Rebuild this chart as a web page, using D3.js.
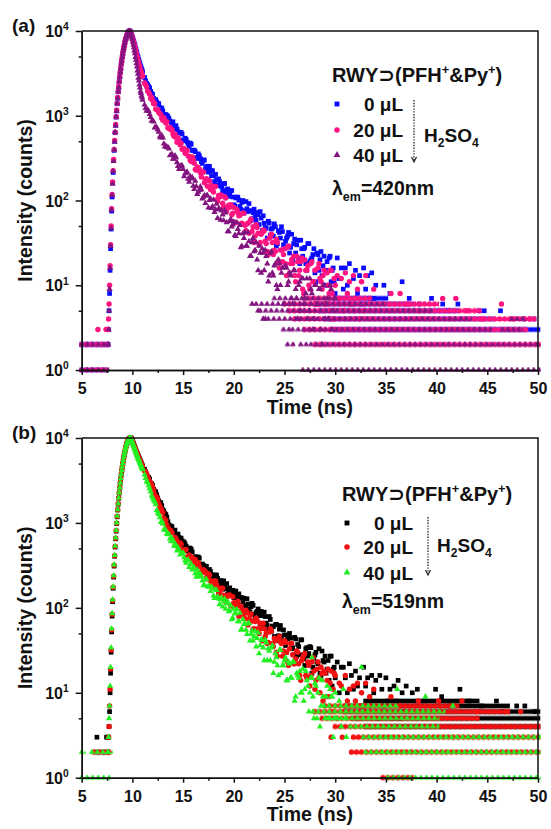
<!DOCTYPE html>
<html>
<head>
<meta charset="utf-8">
<script src="https://cdn.jsdelivr.net/npm/d3@7"></script>
<style>
    body { margin: 0; background: #ffffff; }
    svg text { font-family: "Liberation Sans", Arial, "DejaVu Sans", sans-serif; font-weight: bold; fill: #111111; }
</style>
</head>
<body>
<svg id="chart" width="551" height="829"></svg>
<script>
"use strict";

// channel grids (ns): fine grid around the pulse, two interleaved coarser grids along the decay
const fineStart = 7.6, fineStep = 0.05;
const coarseStart = 11.2, coarseStep = 0.2;
const midStart = 11.3, midStep = 0.2;

// axis ticks
const xMajorTicks = [5, 10, 15, 20, 25, 30, 35, 40, 45, 50];
const xMinorTicks = [7.5, 12.5, 17.5, 22.5, 27.5, 32.5, 37.5, 42.5, 47.5];
const yMajorTicks = [1, 10, 100, 1000, 10000];
const yMinorTicks = [5, 50, 500, 5000];

// ---------- panel (a), lambda_em = 420 nm ----------
const a0Fine = [2,3,5,8,15,27,46,75,
    110,162,214,298,390,498,630,771,962,1140,
    1385,1610,1915,2170,2530,2860,3260,3610,4100,4430,
    4930,5340,5920,6280,6800,7200,7800,8090,8560,8880,
    9260,9480,9760,9870,10000,9990,9850,9480,9090,8850,
    8470,8180,7720,7450,7040,6800,6340,6070,5710,5540,
    5150,4940,4650,4510,4230,4110,3860,3750,3560,3460,
    3290];
const a0Coarse = [2834,2415,2219,1941,1776,1525,1460,1392,1198,1143,
    997,1011,930,839,848,708,697,631,637,517,
    543,490,433,462,392,377,313,338,287,301,
    237,254,253,196,196,204,151,167,145,157,
    120,137,118,131,89,107,109,85,95,71,
    97,74,76,61,79,58,68,74,44,54,
    47,57,39,47,53,29,44,36,43,27,
    36,42,28,20,35,30,21,34,22,28,
    15,31,20,23,14,24,15,25,17,10,
    19,21,11,16,8,21,12,16,9,16,
    10,18,6,12,15,8,13,6,16,9,
    13,7,14,7,10];
const a0Mid = [2585,2328,2133,1831,1595,1550,1394,1253,1233,1034,
    1035,981,866,822,731,764,651,631,608,508,
    525,469,476,390,392,321,355,313,274,300,
    245,216,228,225,167,178,180,149,130,159,
    134,112,130,110,86,110,101,79,100,76,
    80,92,58,72,64,72,52,62,66,48,
    36,54,46,38,49,31,42,49,30,33,
    38,24,40,31,24,34,18,27,27,18,
    31,19,21,27,11,23,20,13,22,15,
    10,22,15,11];
const a0Runs = [[1,5.0,7.4],[2,5.0,7.5],[3,30.0,50.0],[4,29.0,45.5],[5,28.5,42.0],[6,28.0,37.5],[7,30.0,35.0]];
const a0Extra = [[34.8,10],[35.4,8],[36.6,11],[37.3,7],[38.3,6],[39.5,7],[40.6,6],[41.1,5],[42.1,6],[44.2,5],[44.7,5],[46.3,5],[48.6,4],[49.6,4]];

const a20Fine = [3,4,6,10,17,30,50,80,
    118,165,225,305,400,512,640,790,975,1160,
    1400,1640,1930,2210,2540,2900,3270,3660,4090,4500,
    4920,5400,5900,6340,6780,7270,7770,8150,8530,8930,
    9240,9520,9740,9900,9990,9960,9780,9400,9060,8640,
    8350,7870,7530,7100,6790,6350,6060,5660,5400,5040,
    4810,4500,4290,4040,3870,3640,3490,3290,3180,3000,
    2900];
const a20Coarse = [2430,2198,1901,1601,1514,1392,1174,1093,1035,884,
    875,848,706,684,609,611,487,505,473,411,
    360,387,331,288,306,233,248,234,190,216,
    176,147,170,149,126,146,98,110,113,85,
    107,83,83,68,83,55,72,67,54,71,
    44,54,57,43,32,52,41,32,42,44,
    31,23,37,32,26,35,19,26,19,27,
    13,29,18,18,13,22,13,19,9,20,
    15,10,18,11,15,6,18,11,13,6,
    14,8,15,4,10,13,7,12,5,14,
    8,11,6,13,7,9,4,11,5,13];
const a20Mid = [2331,1957,1790,1639,1385,1200,1186,1061,936,946,
    820,723,729,683,573,553,549,456,402,411,
    392,334,299,326,276,228,243,213,220,162,
    181,174,135,135,146,102,115,116,93,111,
    75,88,89,71,55,78,66,53,71,51,
    53,41,60,49,38,48,30,40,45,33,
    25,36,40,23,25,32,16,26,23,18,
    28,14,20,22,11,19,15,21,8,15,
    17,9,19,11,6,16,12,9,15,6,
    10,15,8,12];
const a20Runs = [[1,5.0,7.3],[2,5.0,7.55],[2,28.0,50.0],[3,27.0,48.8],[4,26.0,49.6],[5,25.5,44.2],[6,25.0,40.0],[7,27.0,33.4]];
const a20Extra = [[6.6,3],[7.4,3],[33.8,9],[35.5,8],[36.4,8],[37.1,6],[38.2,5],[40.6,7],[41.9,7],[43.0,5],[44.5,4],[46.4,6],[47.5,4],[49.2,4]];

const a40Fine = [2,3,5,9,16,29,47,78,
    115,157,222,290,395,495,640,765,970,1130,
    1395,1600,1925,2160,2520,2870,3250,3620,4080,4460,
    4910,5360,5900,6300,6770,7230,7790,8110,8520,8900,
    9250,9490,9750,9880,10000,9950,9770,9330,8810,8360,
    7940,7450,6880,6410,5850,5440,4920,4570,4140,3800,
    3410,3120,2800,2590,2320,2150,1940,1850,1730,1650,
    1540];
const a40Coarse = [1347,1142,1133,964,874,723,727,646,550,551,
    430,423,409,345,310,338,282,234,258,234,
    208,217,166,181,149,170,119,132,134,110,
    93,115,101,81,102,78,62,79,76,58,
    72,43,57,49,56,38,46,51,29,36,
    29,42,22,32,25,32,15,24,27,15,
    22,11,24,14,17,10,20,10,16,6,
    16,11,13,6,15,7,10,5,12,7,
    12,5,9,3,10,6,9,3,10,4,
    7,4,9,5,7];
const a40Mid = [1229,1184,1040,869,852,733,686,566,585,467,
    441,425,339,352,310,322,254,253,258,192,
    213,180,193,187,136,147,126,146,105,115,
    114,82,105,85,73,91,80,59,68,77,
    55,43,60,52,39,55,41,28,41,42,
    29,33,22,36,26,20,29,14,24,26,
    18,13,25,13,18,9,18,14,6,17,
    10,14,7,15,9,4,11,12,6,8,
    4,12,8,4,10,6,9,2,10,6,
    4,10,3,7];
const a40Runs = [[1,5.0,7.45],[2,5.0,7.55],[1,26.8,50.0],[2,25.3,25.8],[2,26.6,27.1],[2,27.6,50.0],
    [3,24.9,25.4],[3,25.8,45.2],[3,46.5,48.3],[4,23.4,43.2],[4,47.4,48.6],[5,22.6,39.4],[6,22.2,34.8],[7,24.0,29.5]];
const a40Extra = [[21.8,6],[22.4,5],[22.9,4],[23.1,4]];

// ---------- panel (b), lambda_em = 519 nm ----------
const b0Fine = [3,3,4,6,10,17,30,52,
    80,118,170,230,310,405,520,650,800,985,
    1180,1420,1660,1950,2240,2570,2930,3300,3700,4120,
    4540,4960,5420,5930,6360,6800,7290,7780,8170,8560,
    8950,9260,9530,9750,9900,9980,10000,9990,9880,9600,
    9330,8980,8630,8300,7980,7690,7410,7130,6850,6700,
    6460,6250,6050,5860,5670,5500,5320,5150,4990,4830,
    4680];
const b0Coarse = [4279,3756,3430,2942,2770,2372,2146,1815,1737,1425,
    1288,1170,949,920,820,823,689,675,663,543,
    564,502,507,489,396,400,358,384,307,317,
    309,249,283,243,219,245,222,181,194,208,
    167,145,172,155,132,158,132,107,131,130,
    106,111,89,113,84,88,97,65,81,89,
    66,56,73,61,46,64,47,62,40,48,
    30,48,44,34,45,27,35,42,27,21,
    34,29,34,20,28,23,33,15,24,27,
    19,14,27,19,15,23,10,20,20,15,
    10,22,16,11,18,12,15,7,20,12,
    15,8,16,10,14,5,16,11,7,15,
    8,11,5,12,8,14,5,10,6,12];
const b0Mid = [4013,3501,3284,2899,2482,2331,1972,1703,1596,1374,
    1258,1036,892,902,815,731,739,616,616,597,
    530,466,503,456,393,388,398,314,329,288,
    308,240,268,244,211,242,200,210,166,183,
    193,153,141,161,142,114,146,132,116,101,
    128,96,103,107,75,91,81,91,62,79,
    62,79,53,60,63,41,56,46,55,36,
    43,50,33,28,43,37,28,42,25,33,
    27,35,17,26,30,22,17,31,23,17,
    24,27,12,20];
const b0Runs = [[2,6.5,7.6],[4,33.0,50.0],[5,32.0,50.0],[6,31.0,50.0],[7,31.0,47.0],[8,33.0,44.0]];
const b0Extra = [[6.5,3],[7.45,3],[37.6,10],[38.1,11],[38.8,8],[39.9,11],[40.5,9],[41.3,7],[42.3,11],[43.2,8],[44.4,7],[45.9,8],[46.6,6],[47.9,7],[48.7,7],[49.7,6]];

const b20Fine = [2,3,4,7,11,19,32,55,
    84,122,175,236,318,412,530,660,812,995,
    1195,1430,1680,1960,2260,2590,2950,3320,3720,4140,
    4560,4990,5450,5950,6390,6830,7310,7800,8190,8580,
    8970,9280,9550,9760,9910,9990,10000,9980,9850,9440,
    9120,8790,8470,8170,7870,7590,7310,7050,6790,6550,
    6310,6110,5920,5730,5550,5370,5200,5040,4880,4720,
    4570];
const b20Coarse = [4085,3805,3271,2967,2616,2154,2003,1673,1483,1336,
    1043,948,845,812,663,679,611,544,561,479,
    484,394,419,387,336,372,305,308,258,282,
    262,218,243,205,174,208,175,151,169,141,
    118,141,142,106,115,100,120,82,96,84,
    94,63,81,70,57,76,57,66,41,57,
    51,39,57,38,44,30,43,40,27,41,
    30,21,38,28,22,31,22,14,26,29,
    15,21,16,26,11,19,15,20,8,17,
    14,9,18,11,16,5,13,12,6,16,
    8,11,5,12,8,13,5,10,7,13,
    4,9,5,11,6];
const b20Mid = [3990,3491,3065,2803,2410,2008,1892,1581,1393,1141,
    1071,871,823,769,641,650,583,581,482,475,
    485,403,365,393,357,318,340,261,278,273,
    228,252,210,185,208,189,147,163,170,133,
    134,139,106,135,104,106,79,105,94,75,
    88,73,85,56,69,71,50,57,66,46,
    38,52,53,35,41,27,46,38,31,39,
    23,33,38,22,25,30,16,24,28,16,
    23,12,23,18,14,23,10,17,18,9,
    19,13,6,17];
const b20Runs = [[2,6.2,7.7],[1,34.7,37.5],[2,31.6,50.0],[3,31.8,50.0],[4,30.0,50.0],[5,28.7,44.0],[6,28.0,47.0],[7,29.0,42.0]];
const b20Extra = [[29.6,3],[30.7,3],[35.5,9],[36.4,7],[38.2,8],[40.2,8],[42.5,8],[44.0,6],[46.8,6],[48.3,6]];

const b40Fine = [2,3,5,7,12,20,34,57,
    86,125,178,240,322,418,535,668,820,1005,
    1205,1440,1690,1970,2270,2600,2960,3340,3740,4160,
    4580,5010,5470,5970,6410,6850,7330,7820,8210,8600,
    8990,9300,9570,9780,9920,9990,10000,9960,9800,9270,
    8910,8570,8240,7930,7620,7330,7050,6780,6520,6270,
    6030,5820,5620,5430,5250,5070,4900,4730,4570,4420,
    4270];
const b40Coarse = [3703,3083,2762,2338,1964,1780,1417,1267,1018,973,
    843,748,737,610,606,573,472,479,435,445,
    361,363,301,329,290,254,281,232,235,183,
    217,177,178,177,139,164,136,110,132,119,
    97,118,93,73,97,86,69,87,56,64,
    55,65,41,54,46,35,51,36,42,24,
    39,33,24,36,23,26,16,32,21,24,
    14,23,15,23,8,17,15,10,19,11,
    14,6,15,9,13,5,15,7,9,5,
    12,7,9,3,10,5,8,4,11,5];
const b40Mid = [3371,3001,2544,2092,1851,1651,1316,1157,1051,834,
    823,734,653,662,537,537,512,422,439,391,
    338,368,323,282,297,231,255,251,209,186,
    216,181,157,171,130,161,128,126,103,127,
    112,91,106,76,86,96,69,55,73,65,
    49,66,49,41,53,44,29,42,34,42,
    24,31,34,17,29,21,32,17,21,26,
    14,22,15,23,9,16,18,10,8,18,
    12,10,15,5,12,10,4,14,7,9,
    5,11,9,5];
const b40Runs = [[1,5.0,7.6],[2,5.0,5.15],[2,6.0,7.8],[1,35.2,50.0],[2,33.0,50.0],[3,32.8,50.0],[4,31.5,40.0],[5,29.5,40.0],[6,27.8,40.6],[7,30.0,36.0]];
const b40Extra = [[27.7,26],[31.1,3],[32.6,20],[36.1,11],[38.9,9],[41.6,7]];

// series labels
const seriesLabels = ["0 \u03bcL", "20 \u03bcL", "40 \u03bcL"];


// settings
const setting = {
    xRange: [81.7, 538],
    symbolSize: { square: 22, circle: 23, triangle: 17 },
    patternWidth: { square: 4.6, circle: 5, triangle: 5.5 },
    axisColor: "#111111",
    axisWidth: 1.5
};

const panels = [
    {
        id: "a", label: "(a)", top: 31, bottom: 370, em: "420nm",
        series: [
            { shape: "square",   color: "#0a0aff", fine: a0Fine,  coarse: a0Coarse,  mid: a0Mid,  runs: a0Runs,  extra: a0Extra },
            { shape: "circle",   color: "#ff1480", fine: a20Fine, coarse: a20Coarse, mid: a20Mid, runs: a20Runs, extra: a20Extra },
            { shape: "triangle", color: "#83137f", fine: a40Fine, coarse: a40Coarse, mid: a40Mid, runs: a40Runs, extra: a40Extra }
        ],
        legend: { titleX: 332, titleY: 82, symX: 337, rowY: [104, 130, 155], textRight: 403, arrowX: 414, arrowTop: 100, arrowBottom: 162, acidX: 424, acidY: 141.5, acidWeight: "bold", emX: 332, emY: 195 }
    },
    {
        id: "b", label: "(b)", top: 438, bottom: 777.7, em: "519nm",
        series: [
            { shape: "square",   color: "#000000", fine: b0Fine,  coarse: b0Coarse,  mid: b0Mid,  runs: b0Runs,  extra: b0Extra },
            { shape: "circle",   color: "#f21010", fine: b20Fine, coarse: b20Coarse, mid: b20Mid, runs: b20Runs, extra: b20Extra },
            { shape: "triangle", color: "#22f022", fine: b40Fine, coarse: b40Coarse, mid: b40Mid, runs: b40Runs, extra: b40Extra }
        ],
        legend: { titleX: 342, titleY: 501, symX: 347, rowY: [523, 547, 572.5], textRight: 413, arrowX: 428, arrowTop: 517, arrowBottom: 575, acidX: 437, acidY: 551.5, acidWeight: "normal", emX: 342, emY: 608 }
    }
];


const svg = d3.select("#chart");
const defs = svg.append("defs");

const xScale = d3.scaleLinear()
    .domain([5, 50])
    .range(setting.xRange);

const symbolType = { square: d3.symbolSquare, circle: d3.symbolCircle, triangle: d3.symbolTriangle };

function symbolPath(shape) {
    return d3.symbol().type(symbolType[shape]).size(setting.symbolSize[shape])();
}


// text with super / subscripts
function richText(parent, x, y, parts, size, anchor, weight) {
    let text = parent.append("text")
        .attr("x", x)
        .attr("y", y)
        .attr("font-size", size)
        .attr("text-anchor", anchor || "start")
        .attr("font-weight", weight || "bold");
    let shift = 0;
    parts.forEach(p => {
        let target = p.sup ? -0.42 * size : (p.sub ? 0.3 * size : 0);
        text.append("tspan")
            .attr("dy", target - shift)
            .attr("font-size", (p.sup || p.sub) ? 0.64 * size : size)
            .text(p.t);
        shift = target;
    });
    return text;
}


// channel counts -> [time, counts]
function seriesPoints(s) {
    let points = [];
    s.fine.forEach((v, i) => points.push([fineStart + i * fineStep, v]));
    s.coarse.forEach((v, i) => points.push([coarseStart + i * coarseStep, v]));
    s.mid.forEach((v, i) => points.push([midStart + i * midStep, v]));
    s.extra.forEach(d => points.push(d));
    return points;
}


function drawPanel(panel) {

    let yScale = d3.scaleLog()
        .domain([1, 10000])
        .range([panel.bottom, panel.top]);

    let chart = svg.append("g").attr("class", "panel_" + panel.id);


    // patterns for the dense rows of equal counts in the tail
    panel.series.forEach((s, k) => {
        let w = setting.patternWidth[s.shape];
        let pat = defs.append("pattern")
            .attr("id", `row_${panel.id}_${k}`)
            .attr("patternUnits", "userSpaceOnUse")
            .attr("width", w)
            .attr("height", 6);
        pat.append("path")
            .attr("d", symbolPath(s.shape))
            .attr("transform", `translate(${w / 2}, 3)`)
            .attr("fill", s.color);
    });


    // data
    panel.series.forEach((s, k) => {
        let g = chart.append("g").attr("class", "series");
        let w = setting.patternWidth[s.shape];

        g.selectAll("g.run")
            .data(s.runs)
            .enter()
            .append("g")
            .attr("class", "run")
            .attr("transform", d => `translate(${xScale(d[1]) - w / 2}, ${yScale(d[0]) - 3})`)
            .append("rect")
            .attr("width", d => xScale(d[2]) - xScale(d[1]) + w)
            .attr("height", 6)
            .attr("fill", `url(#row_${panel.id}_${k})`);

        g.selectAll("path.pt")
            .data(seriesPoints(s))
            .enter()
            .append("path")
            .attr("class", "pt")
            .attr("d", symbolPath(s.shape))
            .attr("transform", d => `translate(${xScale(d[0])}, ${yScale(d[1])})`)
            .attr("fill", s.color);
    });


    // x axis
    let xAxis = chart.append("g")
        .attr("class", "x_axis")
        .attr("transform", `translate(0, ${panel.bottom})`)
        .call(d3.axisBottom(xScale).tickValues(xMajorTicks).tickSize(5).tickSizeOuter(0).tickPadding(7.5).tickFormat(d3.format("d")));
    xAxis.selectAll("text").attr("font-size", 16).attr("font-family", null);

    chart.append("g")
        .attr("class", "x_minor")
        .attr("transform", `translate(0, ${panel.bottom})`)
        .call(d3.axisBottom(xScale).tickValues(xMinorTicks).tickSize(3).tickSizeOuter(0).tickFormat(""));


    // y axis
    let yAxis = chart.append("g")
        .attr("class", "y_axis")
        .attr("transform", `translate(${setting.xRange[0]}, 0)`)
        .call(d3.axisLeft(yScale).tickValues(yMajorTicks).tickSize(6).tickSizeOuter(0).tickPadding(7).tickFormat(""));
    yAxis.selectAll("g.tick").each(function(d) {
        let exp = Math.round(Math.log10(d));
        richText(d3.select(this), -13, 5.5, [{ t: "10" }, { t: String(exp), sup: true }], 16, "end");
    });

    chart.append("g")
        .attr("class", "y_minor")
        .attr("transform", `translate(${setting.xRange[0]}, 0)`)
        .call(d3.axisLeft(yScale).tickValues(yMinorTicks).tickSize(3).tickSizeOuter(0).tickFormat(""));

    chart.selectAll(".domain, .tick line")
        .attr("stroke", setting.axisColor)
        .attr("stroke-width", setting.axisWidth);


    // frame top + right
    chart.append("path")
        .attr("d", `M${setting.xRange[0]},${panel.top}H${setting.xRange[1]}V${panel.bottom}`)
        .attr("fill", "none")
        .attr("stroke", setting.axisColor)
        .attr("stroke-width", setting.axisWidth);


    // axis titles + panel label
    chart.append("text")
        .attr("x", (setting.xRange[0] + setting.xRange[1]) / 2)
        .attr("y", panel.bottom + 43.5)
        .attr("text-anchor", "middle")
        .attr("font-size", 19.5)
        .text("Time (ns)");

    chart.append("text")
        .attr("transform", `translate(32, ${(panel.top + panel.bottom) / 2}) rotate(-90)`)
        .attr("text-anchor", "middle")
        .attr("font-size", 19.5)
        .text("Intensity (counts)");

    chart.append("text")
        .attr("x", 12)
        .attr("y", panel.top + 0.5)
        .attr("font-size", 19)
        .text(panel.label);


    // legend
    let L = panel.legend;
    let legend = chart.append("g").attr("class", "legend");

    richText(legend, L.titleX, L.titleY,
        [{ t: "RWY\u2283(PFH" }, { t: "+", sup: true }, { t: "&Py" }, { t: "+", sup: true }, { t: ")" }], 20);

    panel.series.forEach((s, k) => {
        legend.append("path")
            .attr("d", d3.symbol().type(symbolType[s.shape]).size(s.shape === "triangle" ? 20 : 24)())
            .attr("transform", `translate(${L.symX}, ${L.rowY[k]})`)
            .attr("fill", s.color);
        legend.append("text")
            .attr("x", L.textRight)
            .attr("y", L.rowY[k] + 7)
            .attr("text-anchor", "end")
            .attr("font-size", 19)
            .text(seriesLabels[k]);
    });

    // dotted arrow for increasing acid volume
    legend.append("line")
        .attr("x1", L.arrowX).attr("x2", L.arrowX)
        .attr("y1", L.arrowTop).attr("y2", L.arrowBottom - 1)
        .attr("stroke", "#222222")
        .attr("stroke-width", 1.3)
        .attr("stroke-dasharray", "1.4,1.4");
    legend.append("path")
        .attr("d", `M${L.arrowX - 2.5},${L.arrowBottom - 5}L${L.arrowX},${L.arrowBottom}L${L.arrowX + 2.5},${L.arrowBottom - 5}`)
        .attr("fill", "none")
        .attr("stroke", "#222222")
        .attr("stroke-width", 1.2);

    richText(legend, L.acidX, L.acidY,
        [{ t: "H" }, { t: "2", sub: true }, { t: "SO" }, { t: "4", sub: true }], 19, "start", L.acidWeight);

    richText(legend, L.emX, L.emY,
        [{ t: "\u03bb" }, { t: "em", sub: true }, { t: "=" + panel.em }], 19.5);
}

panels.forEach(p => drawPanel(p));
</script>
</body>
</html>
